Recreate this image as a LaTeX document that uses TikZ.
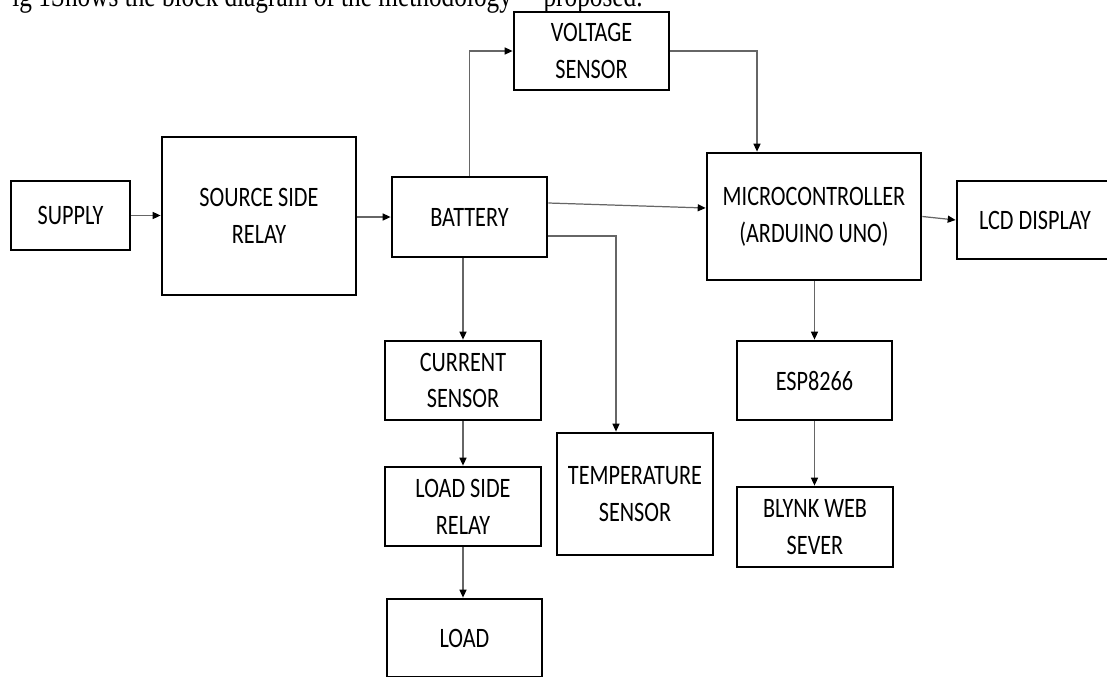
\documentclass[tikz,border=0pt]{standalone}
\usepackage{fontspec}
\setmainfont{Carlito}[FakeStretch=0.79]
\newfontfamily\headfont{Liberation Serif}[FakeStretch=0.8]
\usetikzlibrary{arrows.meta}

\begin{document}
\begin{tikzpicture}[x=0.02cm,y=-0.02cm,
  block/.style={draw=black,line width=1.6pt,align=center,inner sep=0pt,text=black,
    font=\fontsize{16}{21}\selectfont},
  link/.style={draw=black!60,line width=0.7pt,-{Triangle[length=4.5pt,width=4pt,color=black]}}]
\useasboundingbox (0,0) rectangle (1107,677);
\node[font=\headfont\fontsize{18}{20}\selectfont,anchor=base east,inner sep=0pt] (title) at (643,6)
  {ig 1Shows the block diagram of the methodology\quad proposed.};

% blocks
\node[block,minimum width=2.38cm,minimum height=1.38cm] (supply) at (70.5,215.5) {SUPPLY};
\node[block,minimum width=3.88cm,minimum height=3.16cm] (ssr) at (259,216) {SOURCE SIDE\\RELAY};
\node[block,minimum width=3.10cm,minimum height=1.60cm] (battery) at (469.5,217) {BATTERY};
\node[block,minimum width=3.10cm,minimum height=1.56cm] (vsensor) at (591.5,51) {VOLTAGE\\SENSOR};
\node[block,minimum width=4.28cm,minimum height=2.54cm] (mcu) at (814,216.5) {MICROCONTROLLER\\(ARDUINO UNO)};
\node[block,minimum width=3.12cm,minimum height=1.56cm] (lcd) at (1035,220) {LCD DISPLAY};
\node[block,minimum width=3.12cm,minimum height=1.58cm] (csensor) at (463,380.5) {CURRENT\\SENSOR};
\node[block,minimum width=3.12cm,minimum height=1.58cm] (lsr) at (463,506.5) {LOAD SIDE\\RELAY};
\node[block,minimum width=3.10cm,minimum height=1.56cm] (load) at (464.5,638) {LOAD};
\node[block,minimum width=3.12cm,minimum height=2.44cm] (tsensor) at (635,494) {TEMPERATURE\\SENSOR};
\node[block,minimum width=3.10cm,minimum height=1.58cm] (esp) at (814.5,380.5) {ESP8266};
\node[block,minimum width=3.12cm,minimum height=1.60cm] (blynk) at (815,527) {BLYNK WEB\\SEVER};

% connections
\draw[link] (supply.east) -- (supply.east -| ssr.west);
\draw[link] (ssr.east |- battery.west) -- (battery.west);
\draw[link] (battery.north) |- (vsensor.west);
\draw[link] (vsensor.east) -| ([xshift=-1.14cm]mcu.north);
\draw[link] ([yshift=0.28cm]battery.east) -- ([yshift=0.17cm]mcu.west);
\draw[link] ([yshift=-0.38cm]battery.east) -| ([xshift=-0.38cm]tsensor.north);
\draw[link] (battery.south -| csensor.north) -- (csensor.north);
\draw[link] (csensor.south) -- (lsr.north);
\draw[link] (lsr.south) -- (lsr.south |- load.north);
\draw[link] (mcu.east) -- (lcd.west);
\draw[link] (mcu.south -| esp.north) -- (esp.north);
\draw[link] (esp.south) -- (esp.south |- blynk.north);

\end{tikzpicture}
\end{document}
